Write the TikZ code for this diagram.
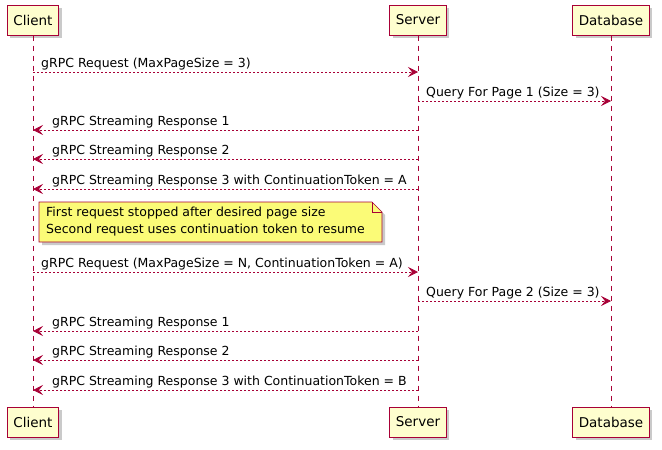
\documentclass[tikz,border=0pt]{standalone}
\usepackage{fontspec}
\setmainfont{DejaVu Sans}
\usetikzlibrary{arrows.meta, positioning, calc, shadows}
\definecolor{umlred}{HTML}{A80036}
\definecolor{umlbox}{HTML}{FEFECE}
\definecolor{umlnote}{HTML}{FBFB77}

\begin{document}
\begin{tikzpicture}[x=1pt, y=-1pt,
    actor/.style={rectangle, draw=umlred, fill=umlbox, line width=1pt, minimum height=30pt, inner xsep=6pt, font=\fontsize{13.5}{16}\selectfont, drop shadow={shadow xshift=3pt, shadow yshift=-3pt, opacity=0.35, fill=black!60}},
    lifeline/.style={draw=umlred, line width=0.7pt, dash pattern=on 5pt off 5pt},
    msg/.style={draw=umlred, line width=0.7pt, dash pattern=on 2pt off 2pt, -{Stealth[length=10pt, width=10pt, inset=4pt]}},
    msglabel/.style={inner sep=0pt, font=\fontsize{12.5}{14}\selectfont},
]
\useasboundingbox (0,0) rectangle (662,450);

% participants
\node[actor] (client) at (33,20) {Client};
\node[actor] (server) at (418,20) {Server};
\node[actor] (db) at (611,20) {Database};
\node[actor] (clientB) at (33,422) {Client};
\node[actor] (serverB) at (418,422) {Server};
\node[actor] (dbB) at (611,422) {Database};

% lifelines
\draw[lifeline] (client) -- (clientB);
\draw[lifeline] (server) -- (serverB);
\draw[lifeline] (db) -- (dbB);

% messages
\foreach \y/\from/\to/\l/\dx/\txt in {
    72/client/server/client/8/{gRPC Request (MaxPageSize = 3)},
    101/server/db/server/8/{Query For Page 1 (Size = 3)},
    130/server/client/client/19/{gRPC Streaming Response 1},
    159/server/client/client/19/{gRPC Streaming Response 2},
    189/server/client/client/19/{gRPC Streaming Response 3 with ContinuationToken = A},
    272/client/server/client/8/{gRPC Request (MaxPageSize = N, ContinuationToken = A)},
    301/server/db/server/8/{Query For Page 2 (Size = 3)},
    331/server/client/client/19/{gRPC Streaming Response 1},
    360/server/client/client/19/{gRPC Streaming Response 2},
    390/server/client/client/19/{gRPC Streaming Response 3 with ContinuationToken = B}} {
    \coordinate (a) at (\from |- 0,\y);
    \coordinate (b) at (\to |- 0,\y);
    \draw[msg] (a) -- (b);
    \node[msglabel, anchor=base west] at ($(\l |- 0,\y)+(\dx,-5)$) {\txt};
}

% note
\filldraw[draw=umlred, fill=umlnote, line width=0.7pt, drop shadow={shadow xshift=3pt, shadow yshift=-3pt, opacity=0.35, fill=black!60}]
    (39,202) -- (372,202) -- (382,212) -- (382,242) -- (39,242) -- cycle;
\draw[umlred, line width=0.7pt] (372,202) -- (372,212) -- (382,212);
\node[inner sep=0pt, align=left, anchor=north west, font=\fontsize{12.5}{17}\selectfont] (note) at (46,207) {First request stopped after desired page size\\Second request uses continuation token to resume};

\end{tikzpicture}
\end{document}
